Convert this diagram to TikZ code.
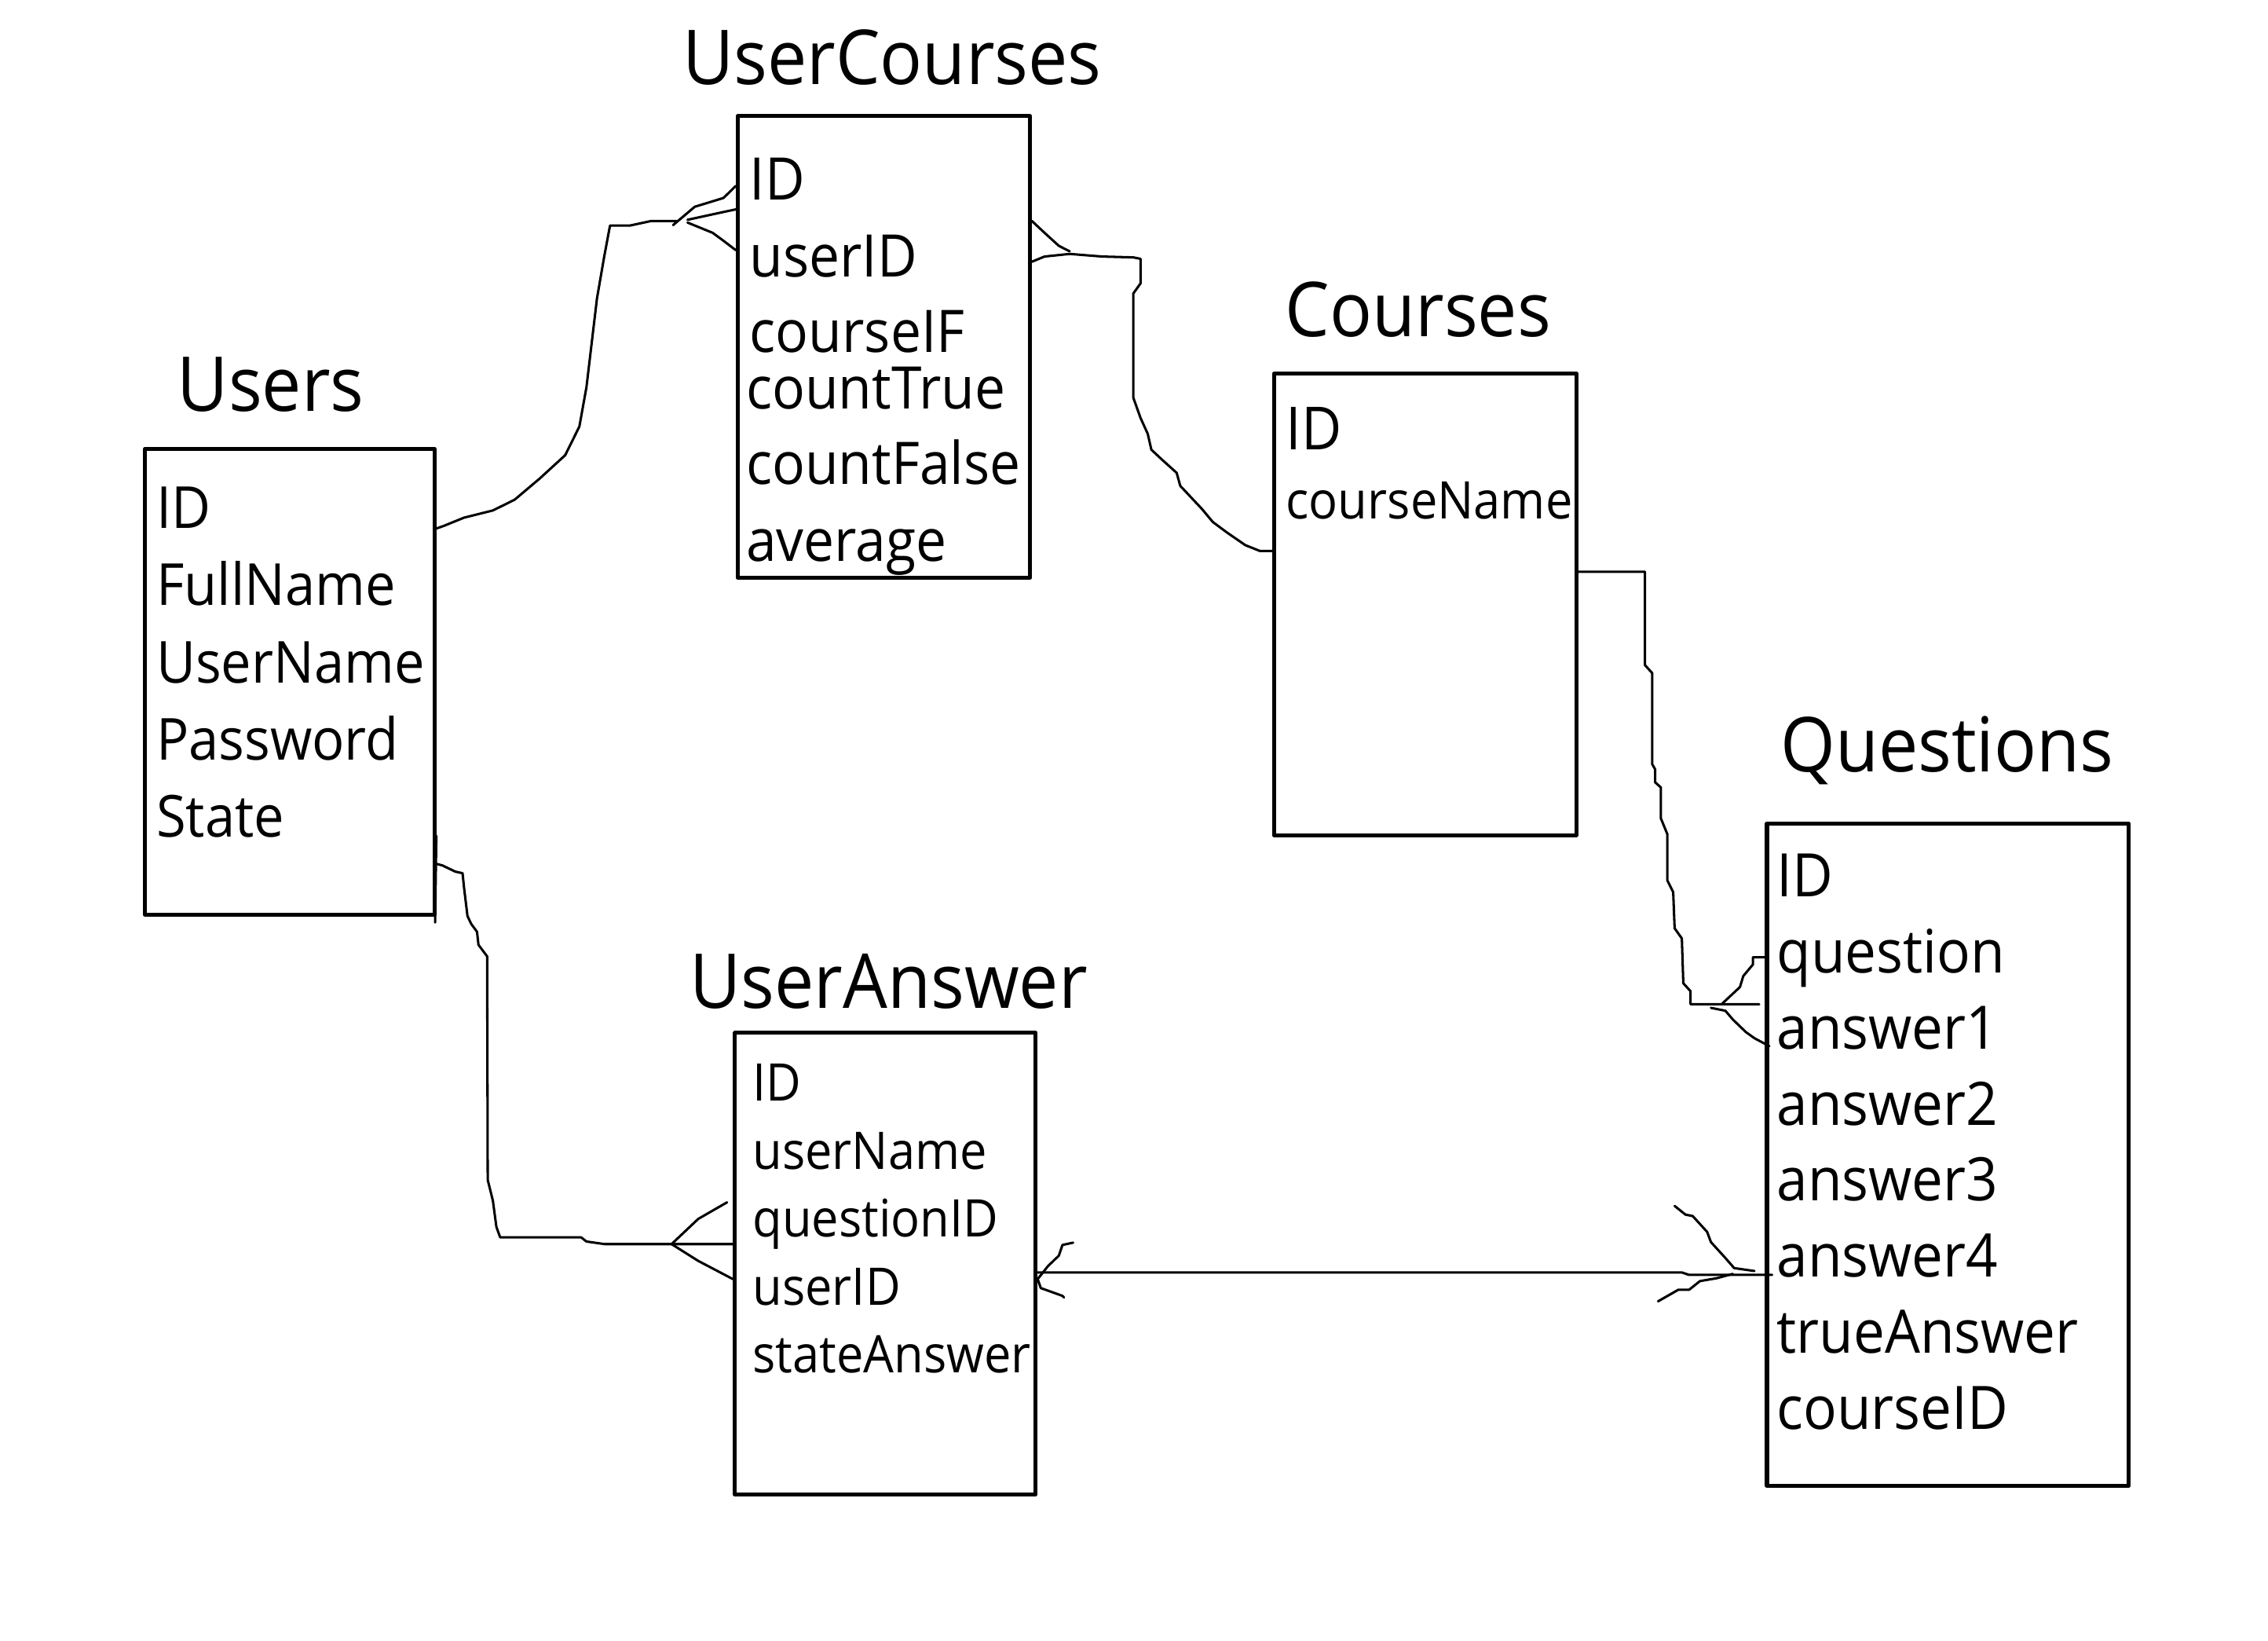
\documentclass[tikz,border=0pt]{standalone}
\usepackage{fontspec}
\setmainfont{Open Sans}[FakeStretch=0.93]
\tikzset{
  tbl/.style={draw,line width=0.78pt,inner sep=0pt,anchor=north west},
  ttl/.style={anchor=base west,inner sep=0pt,font=\fontsize{14.9}{18}\selectfont},
  fld/.style={anchor=base west,inner sep=0pt,font=\fontsize{11.4}{14}\selectfont},
  rel/.style={line width=0.47pt},
}
\begin{document}
\begin{tikzpicture}[x=0.01cm,y=-0.01cm,line join=round,line cap=round]
\useasboundingbox (0,0) rectangle (1569,1134.4);
% tables
\node[tbl,minimum width=2cm,minimum height=3.22cm] (users) at (99,309) {};
\node[tbl,minimum width=2.02cm,minimum height=3.19cm] (uc) at (509,79) {};
\node[tbl,minimum width=2.09cm,minimum height=3.19cm] (courses) at (880,257) {};
\node[tbl,minimum width=2.5cm,minimum height=4.58cm] (quest) at (1221,568) {};
\node[tbl,minimum width=2.08cm,minimum height=3.19cm] (ua) at (507,713) {};
% titles
\node[ttl] (usersT) at (122,284.5) {Users};
\node[ttl] (ucT) at (471.5,58.5) {UserCourses};
\node[ttl] (coursesT) at (888.5,233) {Courses};
\node[ttl] (questT) at (1231,534) {Questions};
\node[ttl] (uaT) at (476.5,697.5) {UserAnswer};
% fields
\foreach \t [count=\i] in {ID,FullName,UserName,Password,State}
  \node[fld] (users-\i) at (107.5,{365.5+53.3*(\i-1)}) {\t};
\foreach \t/\x/\y [count=\i] in {ID/518/138.5,userID/518/191.5,courseIF/518/243.5,countTrue/515.5/283,countFalse/515.5/335,average/515.5/388}
  \node[fld,font=\fontsize{11.55}{14}\selectfont] (uc-\i) at (\x,\y) {\t};
\node[fld,font=\fontsize{11.7}{14}\selectfont] (courses-1) at (889,311) {ID};
\node[fld,font=\fontsize{10.2}{12}\selectfont] (courses-2) at (889,359) {courseName};
\foreach \t [count=\i] in {ID,question,answer1,answer2,answer3,answer4,trueAnswer,courseID}
  \node[fld,font=\fontsize{11.8}{14}\selectfont] (quest-\i) at (1228.5,{620.2+52.6*(\i-1)}) {\t};
\foreach \t [count=\i] in {ID,userName,questionID,userID,stateAnswer}
  \node[fld,font=\fontsize{10.2}{12}\selectfont] (ua-\i) at (520,{761.5+47*(\i-1)}) {\t};
% end points on the tables
\coordinate (a1) at (users.east |- 0,365.5);
\coordinate (a2) at (users.east |- 0,597.4);
\coordinate (b1) at (uc.west |- 0,128.6);
\coordinate (b2) at (uc.west |- 0,144.8);
\coordinate (b3) at (uc.west |- 0,173);
\coordinate (b4) at (uc.east |- 0,152.8);
\coordinate (b5) at (uc.east |- 0,181);
\coordinate (c1) at (courses.west |- 0,381);
\coordinate (c2) at (courses.east |- 0,395.4);
\coordinate (d1) at ([xshift=-0.04cm]quest.west |- 0,694.5);
\coordinate (d2) at (quest.west |- 0,662);
\coordinate (d3) at ([xshift=0.03cm]quest.west |- 0,723.5);
\coordinate (d4) at ([xshift=0.05cm]quest.west |- 0,881.7);
\coordinate (e1) at (ua.west |- 0,860.4);
\coordinate (e2) at ([xshift=-0.04cm]ua.west |- 0,831.5);
\coordinate (e3) at (ua.west |- 0,884.6);
\coordinate (e4) at (ua.east |- 0,884.6);
% Users -- UserCourses
\draw[rel] (a1) -- (307,363.7) -- (321,358) -- (341,353) -- (356,345.6) -- (373.3,331) -- (391,314.8)
  -- (400.8,295) -- (405.7,267.8) -- (413,206.3) -- (418,177.4) -- (422,156) -- (435.7,156)
  -- (450.6,152.8) -- (468,152.8);
\draw[rel] (465.6,155.7) -- (480.6,143) -- (500.5,136.9) -- (b1);
\draw[rel] (475.6,152) -- (500.5,146.6) -- (b2);
\draw[rel] (475.6,153.9) -- (493,161) -- (500.5,166.5) -- (b3);
% UserCourses -- Courses
\draw[rel] (b4) -- (722.6,161) -- (732.5,170) -- (740,173.8);
\draw[rel] (b5) -- (722.6,177.4) -- (740,175.6) -- (762.4,177.4) -- (784,178) -- (789,179) -- (789,196)
  -- (784,203) -- (784,275) -- (789,289) -- (794,300) -- (796.5,311) -- (804,318) -- (814,327)
  -- (816.5,336) -- (831.5,352) -- (839,361) -- (849,368.4) -- (861.5,377) -- (871.5,381) -- (c1);
% Courses -- Questions
\draw[rel] (c2) -- (1138,395.4) -- (1138,460) -- (1143,465.5) -- (1143,528.5) -- (1145,532) -- (1145,541)
  -- (1149,544.6) -- (1149,566) -- (1153.5,577) -- (1153.5,609) -- (1157.5,617) -- (1158.5,642)
  -- (1163.5,649) -- (1164.5,680) -- (1169.5,685.5) -- (1169.5,694.5) -- (d1);
\draw[rel] (1191,694.5) -- (1203.7,682.6) -- (1206,675) -- (1212.7,667) -- (1212.7,662) -- (d2);
\draw[rel] (1183.6,697) -- (1193.6,699) -- (1198.7,705) -- (1207.7,713.7) -- (1213.7,718) -- (d3);
% Users -- UserAnswer
\draw[rel] (users.east |- 0,578) -- (301,638);
\draw[rel] (a2) -- (306,598.5) -- (315,602.8) -- (320,603.9) -- (321,613.7) -- (323.4,633.5) -- (326,639)
  -- (330,644.4) -- (331,653.4) -- (337,661.4) -- (337.4,816) -- (341,830.5) -- (343.4,848.5)
  -- (346,855.7) -- (402,855.7) -- (405.7,858.6) -- (418.2,860.4) -- (e1);
\draw[rel] (464.6,860.4) -- (483,843) -- (e2);
\draw[rel] (464.6,860.4) -- (483,872) -- (e3);
% UserAnswer -- Questions
\draw[rel] ([yshift=0.046cm]e4) -- (1163.5,880) -- (1168.5,881.7) -- (d4);
\draw[rel] (742.4,859.4) -- (735,861) -- (732.5,868.4) -- (725,875.6) -- (e4) -- (720,890.8)
  -- (735,896.2) -- (736,897.3);
\draw[rel] (1158.5,834) -- (1166,840) -- (1171,841) -- (1181,852) -- (1183.6,859) -- (1193.6,870)
  -- (1199.7,877) -- (1213.7,879);
\draw[rel] (1147,900) -- (1161,892) -- (1168.5,892) -- (1176,886) -- (1187.6,884) -- (1198.7,881);
\end{tikzpicture}
\end{document}
